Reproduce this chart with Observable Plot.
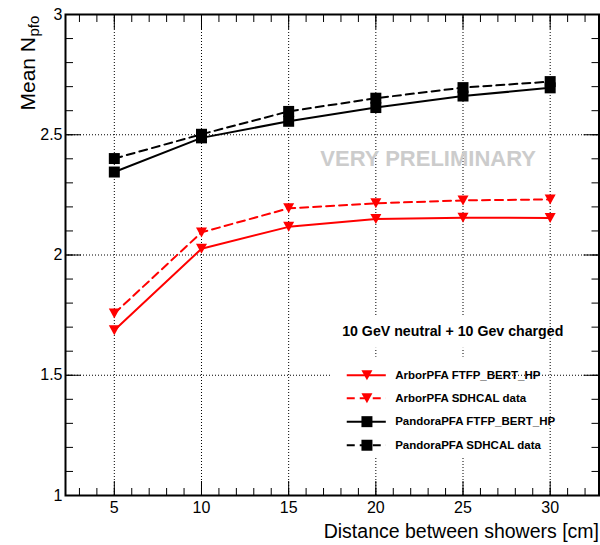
<!DOCTYPE html>
<html><head><meta charset="utf-8">
<script src="https://cdn.jsdelivr.net/npm/d3@7"></script>
<script src="https://cdn.jsdelivr.net/npm/@observablehq/plot@0.6"></script>
<style>html,body{margin:0;padding:0;background:#fff;}</style>
</head><body><div id="chart"></div>
<script>
// ---- data ----
const distances = [5, 10, 15, 20, 25, 30];
const arborFTFP = [1.687, 2.026, 2.117, 2.150, 2.155, 2.154];
const arborData = [1.757, 2.094, 2.194, 2.215, 2.227, 2.231];
const pandoraFTFP = [2.345, 2.487, 2.556, 2.613, 2.661, 2.695];
const pandoraData = [2.401, 2.502, 2.597, 2.652, 2.696, 2.721];
const seriesNames = ["ArborPFA FTFP_BERT_HP", "ArborPFA SDHCAL data", "PandoraPFA FTFP_BERT_HP", "PandoraPFA SDHCAL data"];
const xTickValues = [5, 10, 15, 20, 25, 30];
const yTickValues = [1, 1.5, 2, 2.5, 3];
const xTitle = "Distance between showers [cm]";
const yTitleMain = "Mean N";
const yTitleSub = "pfo";
const watermark = "VERY PRELIMINARY";
const note = "10 GeV neutral + 10 Gev charged";

// ---- styles ----
const FONT = "'Liberation Sans', Arial, Helvetica, sans-serif";
const triDown = {draw(ctx) { const w = 11, h = 10; ctx.moveTo(-w/2, -h/2); ctx.lineTo(w/2, -h/2); ctx.lineTo(0, h/2); ctx.closePath(); }};
const seriesStyle = [
  {values: arborFTFP, color: "#ff0000", dash: null, symbol: triDown, r: 5},
  {values: arborData, color: "#ff0000", dash: "8,5", symbol: triDown, r: 5},
  {values: pandoraFTFP, color: "#000000", dash: null, symbol: "square", r: 6.2},
  {values: pandoraData, color: "#000000", dash: "8,5", symbol: "square", r: 6.2}
];

const series = seriesStyle.map((s, i) => ({...s, name: seriesNames[i],
  points: distances.map((d, j) => ({x: d, y: s.values[j]}))}));

const legendY = [1.5, 1.404, 1.307, 1.209];
const legendRows = series.map((s, i) => ({...s, ly: legendY[i]}));

const marks = [
  Plot.gridX(xTickValues, {stroke: "black", strokeOpacity: 1, strokeDasharray: "1,2", strokeWidth: 1}),
  Plot.gridY(yTickValues, {stroke: "black", strokeOpacity: 1, strokeDasharray: "1,2", strokeWidth: 1}),
  // white boxes behind note & legend
  Plot.rect([0], {x1: 17.5, x2: 26.8, y1: 1.612, y2: 1.741, fill: "white"}),
  Plot.rect([0], {x1: 17.5, x2: 26.8, y1: 1.155, y2: 1.575, fill: "white"}),
];
for (const s of series) {
  marks.push(Plot.line(s.points, {x: "x", y: "y", stroke: s.color, strokeWidth: 2, strokeDasharray: s.dash}));
}
for (const s of series) {
  marks.push(Plot.dot(s.points, {x: "x", y: "y", symbol: s.symbol, r: s.r, fill: s.color, stroke: "none"}));
}
// legend
for (const s of legendRows) {
  marks.push(Plot.ruleY([s], {y: "ly", x1: 18.36, x2: 20.6, stroke: s.color, strokeWidth: 2, strokeDasharray: s.dash}));
  marks.push(Plot.dot([s], {x: 19.49, y: "ly", symbol: s.symbol, r: s.r, fill: s.color, stroke: "none"}));
  marks.push(Plot.text([s], {x: 21.11, y: "ly", text: "name", textAnchor: "start", lineAnchor: "middle", fontSize: 11.5, fontWeight: "bold", fill: "black"}));
}
marks.push(
  Plot.text([watermark], {x: 23.0, y: 2.368, text: d => d, textAnchor: "middle", lineAnchor: "bottom", fontSize: 22, fontWeight: "bold", fill: "#cccccc"}),
  Plot.text([note], {x: 24.41, y: 1.662, text: d => d, textAnchor: "middle", lineAnchor: "bottom", fontSize: 14.2, fontWeight: "bold", fill: "black"}),
  // axes: ticks inward
  Plot.axisX(d3.range(3, 33), {anchor: "bottom", tickSize: -7, text: null, label: null}),
  Plot.axisX(xTickValues, {anchor: "bottom", tickSize: -14, text: null, label: null}),
  Plot.axisX(d3.range(3, 33), {anchor: "top", tickSize: -7, text: null, label: null}),
  Plot.axisX(xTickValues, {anchor: "top", tickSize: -14, text: null, label: null}),
  Plot.axisY(d3.range(10, 31).map(d => d / 10), {anchor: "left", tickSize: -8, text: null, label: null}),
  Plot.axisY(yTickValues, {anchor: "left", tickSize: -16, text: null, label: null}),
  Plot.axisY(d3.range(10, 31).map(d => d / 10), {anchor: "right", tickSize: -8, text: null, label: null}),
  Plot.axisY(yTickValues, {anchor: "right", tickSize: -16, text: null, label: null}),
  Plot.axisX(xTickValues, {anchor: "bottom", tickSize: 0, tickPadding: 6, fontSize: 16, label: null, tickFormat: d => `${d}`}),
  Plot.axisY(yTickValues, {anchor: "left", tickSize: 0, tickPadding: 3, fontSize: 16, label: null, tickFormat: d => `${d}`}),
  Plot.frame({stroke: "black", strokeWidth: 2}),
  Plot.text([xTitle], {frameAnchor: "bottom-right", dy: 42, text: d => d, textAnchor: "end", lineAnchor: "bottom", fontSize: 19.5, fill: "black"}),
  Plot.text([yTitleMain], {frameAnchor: "top-left", dx: -31, dy: 96, rotate: -90, text: d => d, textAnchor: "start", lineAnchor: "bottom", fontSize: 21, fill: "black"}),
  Plot.text([yTitleSub], {frameAnchor: "top-left", dx: -27, dy: 22, rotate: -90, text: d => d, textAnchor: "start", lineAnchor: "bottom", fontSize: 15, fill: "black"})
);

const chart = Plot.plot({
  width: 600, height: 545,
  marginLeft: 65, marginRight: 1.5, marginTop: 14, marginBottom: 50,
  style: {fontFamily: FONT, background: "white", color: "black"},
  x: {domain: [2.2, 32.8]},
  y: {domain: [1, 3]},
  marks
});
document.getElementById("chart").appendChild(chart);
</script>
</body></html>
